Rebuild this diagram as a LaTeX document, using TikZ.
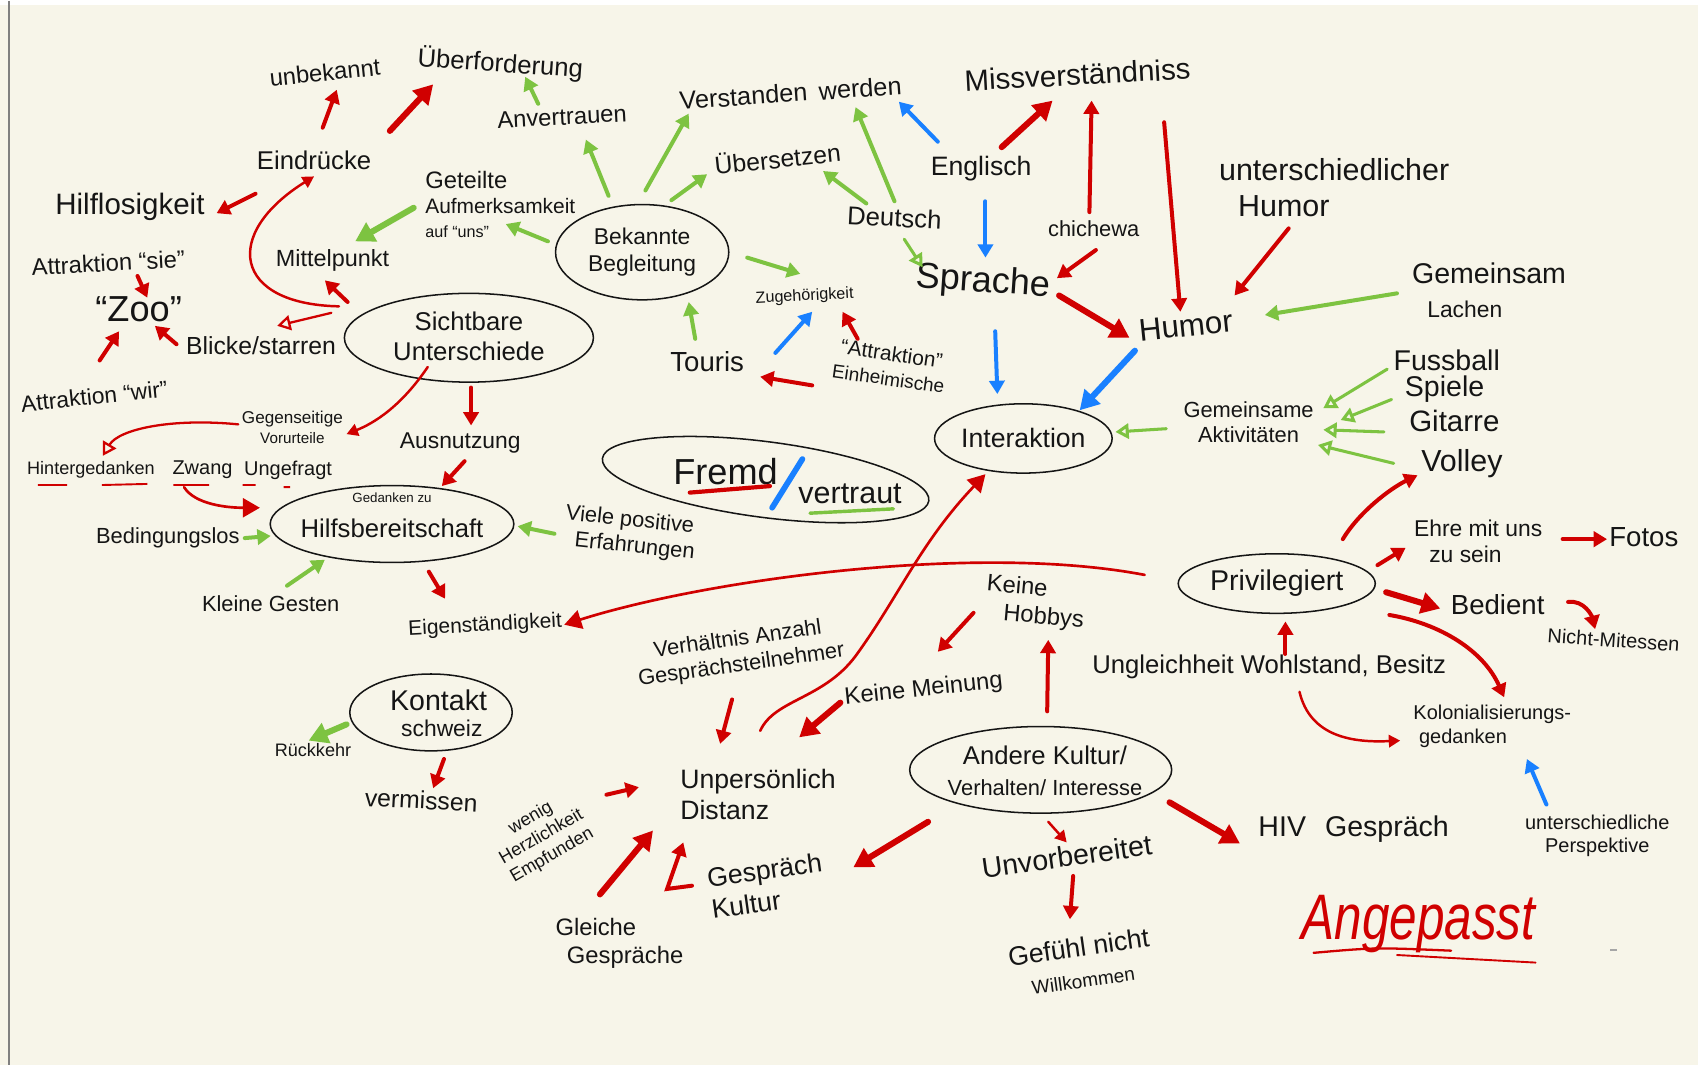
\documentclass[tikz,border=0pt]{standalone}
\usepackage{fontspec}
\usepackage{graphicx}
\setmainfont{Liberation Sans}
\usetikzlibrary{arrows.meta,shapes.geometric,calc}
\definecolor{hred}{HTML}{D00000}
\definecolor{hgreen}{HTML}{7DC341}
\definecolor{hblue}{HTML}{1980FF}
\definecolor{paper}{HTML}{F7F5E9}
\definecolor{ink}{HTML}{151515}
\newcommand\fz[1]{\fontsize{#1}{\dimexpr #1pt*118/100\relax}\selectfont}
\begin{document}
\begin{tikzpicture}[x=0.02cm,y=-0.02cm,
  txt/.style={inner sep=0pt, text=ink, align=center},
  fs/.style={font=\fz{#1}},
  ell/.style={ellipse, draw=ink, line width=0.8pt, inner sep=0pt},
  ar/.style={line width=2.1pt, line cap=round, -{Triangle[length=7pt,width=8pt]}},
  art/.style={line width=3.2pt, line cap=round, -{Triangle[length=10pt,width=11pt]}},
  arn/.style={line width=1.3pt, line cap=round, -{Triangle[length=6pt,width=6.5pt]}},
  arnb/.style={line width=1.4pt, line cap=round, -{Triangle[length=9pt,width=10pt]}},
  aro/.style={line width=1.6pt, line cap=round, -{Triangle[open,length=7pt,width=8pt]}},
  cR/.style={draw=hred}, cG/.style={draw=hgreen}, cB/.style={draw=hblue}]
% background
\fill[paper] (0,0) rectangle (1568,983);
\fill[white] (0,0) rectangle (1568,4);
\draw[gray, line width=1pt] (8,0) -- (8,983);
\useasboundingbox (0,0) rectangle (1568,983);

% ---------- nodes ----------
\node[txt,fs=12.5,rotate=6] (unbek) at (300,66) {unbekannt};
\node[txt,fs=13.5,rotate=-4] (uberf) at (462,58) {Überforderung};
\node[txt,fs=12.5,rotate=3] (anvert) at (519,107) {Anvertrauen};
\node[txt,fs=13.3,rotate=4] (verst) at (730,85) {Verstanden\hspace{6pt}werden};
\node[txt,fs=15.5,rotate=3] (miss) at (995,68) {Missverständniss};
\node[txt,fs=13.5] (eind) at (290,147) {Eindrücke};
\node[txt,fs=11,align=left] (geteilt) at (462,188) {{\fz{12.5}Geteilte}\\Aufmerksamkeit\\{\fz{8.5}auf “uns”}};
\node[txt,fs=13,rotate=6] (uebers) at (718,145) {Übersetzen};
\node[txt,fs=14] (engl) at (906,155) {Englisch};
\node[txt,fs=13.5,rotate=-3] (deut) at (826,200) {Deutsch};
\node[txt,fs=11.5] (chich) at (1010,210) {chichewa};
\node[txt,fs=16,align=left] (unterH) at (1232,172) {unterschiedlicher\\\hspace*{10pt}Humor};
\node[txt,fs=15.5] (hilf) at (120,190) {Hilflosigkeit};
\node[txt,fs=12.5,rotate=3] (attsie) at (100,242) {Attraktion “sie”};
\node[txt,fs=12.3] (mittel) at (307,240) {Mittelpunkt};
\node[ell,minimum width=3.2cm,minimum height=1.76cm] (bek) at (593,232) {};
\node[txt,fs=12] (bekT) at (bek) {Bekannte\\Begleitung};
\node[txt,fs=8.5,rotate=3] (zugeh) at (743,273) {Zugehörigkeit};
\node[txt,fs=19,rotate=-4] (sprache) at (908,260) {Sprache};
\node[txt,fs=15,align=left] (gemL) at (1375,267) {Gemeinsam\\\hspace*{8pt}{\fz{12}Lachen}};
\node[txt,fs=16.5,rotate=6] (humor) at (1095,300) {Humor};
\node[txt,fs=19] (zoo) at (128,285) {“Zoo”};
\node[ell,minimum width=4.6cm,minimum height=1.64cm] (sicht) at (433,311) {};
\node[txt,fs=13.5] (sichtT) at (433,310) {Sichtbare\\Unterschiede};
\node[txt,fs=13] (blicke) at (241,318) {Blicke/starren};
\node[txt,fs=12,rotate=6] (attwir) at (87,365) {Attraktion “wir”};
\node[txt,fs=14.5] (touris) at (653,333) {Touris};
\node[txt,fs=11,rotate=-8] (einh) at (822,337) {“Attraktion”\\{\fz{10}Einheimische}};
\node[txt,fs=15] (fussball) at (1336,332) {Fussball};
\node[txt,fs=15] (spiele) at (1334,358) {Spiele};
\node[txt,fs=15.5] (gitarre) at (1343,388) {Gitarre};
\node[txt,fs=16] (volley) at (1350,427) {Volley};
\node[txt,fs=11.5] (gemA) at (1153,389) {Gemeinsame\\Aktivitäten};
\node[ell,minimum width=3.28cm,minimum height=1.28cm] (interakt) at (945,404) {};
\node[txt,fs=14] (interaktT) at (interakt) {Interaktion};
\node[txt,fs=9] (gegens) at (270,394) {Gegenseitige\\{\fz{8}Vorurteile}};
\node[txt,fs=12] (ausn) at (425,408) {Ausnutzung};
\node[txt,fs=9.5] (hinterg) at (84,433) {Hintergedanken};
\node[txt,fs=10.5] (zwang) at (187,433) {Zwang};
\node[txt,fs=10.5] (ungefr) at (266,433) {Ungefragt};
\draw[hred,line width=1pt] (35,447)--(62,447) (94,447)--(136,446) (160,447)--(193,447) (224,447)--(236,447) (262,449)--(268,449);
\node[ell,rotate=-7.4,minimum width=6.08cm,minimum height=1.4cm] (fv) at (707,442) {};
\node[txt,fs=19] (fremd) at (670,435) {Fremd};
\node[txt,fs=16] (vertraut) at (785,455) {vertraut};
\draw[hred,line width=2.2pt,line cap=round] (637,454) -- (711,448);
\draw[hblue,line width=3pt,line cap=round] (741,423) -- (713,468);
\draw[hgreen,line width=1.8pt,line cap=round] (748,473) -- (825,469);
\node[ell,minimum width=4.5cm,minimum height=1.42cm] (hilfsb) at (362,483) {};
\node[txt,fs=7] (gedZu) at (362,459) {Gedanken zu};
\node[txt,fs=13.5] (hilfsbT) at (362,487) {Hilfsbereitschaft};
\node[txt,fs=11.5,rotate=-6,align=left] (viele) at (582,492) {Viele positive\\\hspace*{6pt}Erfahrungen};
\node[txt,fs=11.5] (beding) at (155,496) {Bedingungslos};
\node[txt,fs=11.5] (kleine) at (250,557) {Kleine Gesten};
\node[txt,fs=11,rotate=3] (eigen) at (448,577) {Eigenständigkeit};
\node[txt,fs=12,align=left] (ehre) at (1365,499) {Ehre mit uns\\\hspace*{8pt}zu sein};
\node[txt,fs=14.5] (fotos) at (1518,495) {Fotos};
\node[ell,minimum width=3.64cm,minimum height=1.1cm] (privil) at (1179,538) {};
\node[txt,fs=15] (privilT) at (privil) {Privilegiert};
\node[txt,fs=14.5] (bedient) at (1383,557) {Bedient};
\node[txt,fs=10.5,rotate=-4] (nichtM) at (1490,590) {Nicht-Mitessen};
\node[txt,fs=12.5,align=left,rotate=-5] (hobbys) at (956,556) {Keine\\\hspace*{10pt}Hobbys};
\node[txt,fs=11.5,rotate=8] (verh) at (683,602) {Verhältnis Anzahl\\Gesprächsteilnehmer};
\node[txt,fs=12.5,rotate=6] (keineM) at (853,636) {Keine Meinung};
\node[txt,fs=13.5] (ungl) at (1172,615) {Ungleichheit Wohlstand, Besitz};
\node[txt,fs=10.5,align=left] (kolon) at (1378,670) {Kolonialisierungs-\\\hspace*{3pt}gedanken};
\node[ell,minimum width=3cm,minimum height=1.42cm] (kontakt) at (398,657) {};
\node[txt,fs=15] (kontaktT) at (405,646) {Kontakt};
\node[txt,fs=12] (schweiz) at (408,672) {schweiz};
\node[txt,fs=9.5] (rueck) at (289,692) {Rückkehr};
\node[txt,fs=13,rotate=-3] (verm) at (389,738) {vermissen};
\node[txt,fs=9.5,rotate=30] (wenig) at (500,772) {wenig\\Herzlichkeit\\Empfunden};
\node[txt,fs=14,align=left] (unpers) at (700,733) {Unpersönlich\\Distanz};
\node[ell,minimum width=4.84cm,minimum height=1.6cm] (andere) at (961,710) {};
\node[txt,fs=13.5] (andereT) at (965,711) {Andere Kultur/\\{\fz{11.5}Verhalten/ Interesse}};
\node[txt,fs=14,rotate=8,align=left] (gespr) at (708,817) {Gespräch\\Kultur};
\node[txt,fs=15,rotate=8] (unvor) at (985,790) {Unvorbereitet};
\node[txt,fs=15] (hiv) at (1250,765) {HIV\hspace{10pt}Gespräch};
\node[txt,fs=10.5] (untP) at (1475,771) {unterschiedliche\\Perspektive};
\node[txt,fs=12.5,align=left] (gleiche) at (572,870) {Gleiche\\\hspace*{6pt}Gespräche};
\node[txt,fs=14,rotate=8] (gefuehl) at (998,888) {Gefühl nicht\\{\fz{10}Willkommen}};
\node[txt,text=hred,font=\fontsize{26}{26}\selectfont\itshape] (angep) at (1310,852) {\scalebox{1}[1.3]{Angepasst}};
\draw[hred,line width=1.2pt,line cap=round] (1213,879) .. controls (1270,874) .. (1340,877);
\draw[hred,line width=1pt,line cap=round] (1290,881) -- (1418,888);
\draw[gray!70,line width=1pt] (1487,876) -- (1493,876);

% ---------- connectors ----------
\draw[ar,cR] ($(eind)+(8,-30)$) -- ($(unbek)+(11,16)$);
\draw[art,cR] ($(eind)+(70,-27)$) -- ($(uberf)+(-62,19)$);
\draw[ar,cG] ($(anvert)+(-22,-12)$) -- ($(uberf)+(23,12)$);
\draw[ar,cR] ($(eind)+(-54,31)$) -- ($(hilf)+(80,6)$);
\draw[arn,cR] ($(sicht)+(-120,-29)$) .. controls +(-98,-2) and +(-85,53) .. ($(eind)+(0,15)$);
\draw[art,cG] ($(geteilt)+(-80,3)$) -- ($(mittel)+(21,-18)$);
\draw[ar,cG] ($(bek)+(-87,-10)$) -- ($(geteilt)+(5,18)$);
\draw[ar,cR] ($(sicht)+(-112,-33)$) -- ($(mittel)+(-7,18)$);
\draw[aro,cR,line width=1.2pt] ($(sicht)+(-127,-23)$) -- ($(blicke)+(15,-18)$);
\draw[ar,cR] ($(attsie)+(27,12)$) -- ($(zoo)+(8,-11)$);
\draw[ar,cR] ($(blicke)+(-78,-1)$) -- ($(zoo)+(15,15)$);
\draw[ar,cR] ($(attwir)+(5,-33)$) -- ($(zoo)+(-18,20)$);

\draw[ar,cG] ($(bek)+(-31,-52)$) -- ($(anvert)+(22,21)$);
\draw[ar,cG] ($(bek)+(3,-57)$) -- ($(verst)+(-94,19)$);
\draw[ar,cG] ($(bek)+(27,-48)$) -- ($(uebers)+(-65,15)$);
\draw[ar,cG] ($(bek)+(97,5)$) -- ($(zugeh)+(-4,-21)$);
\draw[ar,cG] ($(touris)+(-11,-21)$) -- ($(bek)+(43,46)$);
\draw[ar,cB] ($(touris)+(63,-8)$) -- ($(zugeh)+(7,14)$);
\draw[ar,cR] ($(einh)+(-30,-25)$) -- ($(zugeh)+(35,14)$);
\draw[ar,cR] ($(einh)+(-72,18)$) -- ($(touris)+(49,14)$);

\draw[ar,cG] ($(deut)+(-26,-13)$) -- ($(uebers)+(42,12)$);
\draw[ar,cG] ($(deut)+(0,-15)$) -- ($(verst)+(60,13)$);
\draw[aro,cG] ($(deut)+(9,20)$) -- ($(sprache)+(-56,-14)$);
\draw[ar,cB] ($(engl)+(-40,-25)$) -- ($(verst)+(100,8)$);
\draw[art,cR] ($(engl)+(19,-20)$) -- ($(miss)+(-23,24)$);
\draw[ar,cB] ($(engl)+(4,30)$) -- ($(sprache)+(2,-23)$);
\draw[ar,cR] ($(chich)+(-4,-15)$) -- ($(miss)+(13,24)$);
\draw[ar,cR] ($(chich)+(2,20)$) -- ($(sprache)+(68,-4)$);
\draw[ar,cR] ($(miss)+(80,44)$) -- ($(humor)+(-5,-13)$);
\draw[art,cR] ($(sprache)+(70,12)$) -- ($(humor)+(-52,11)$);
\draw[ar,cB] ($(sprache)+(11,45)$) -- ($(interakt)+(-24,-41)$);
\draw[art,cB] ($(humor)+(-47,23)$) -- ($(interakt)+(52,-26)$);
\draw[ar,cR] ($(unterH)+(-42,38)$) -- ($(humor)+(45,-28)$);
\draw[ar,cG] ($(gemL)+(-85,3)$) -- ($(humor)+(73,-10)$);

\draw[aro,cG] ($(gemA)+(-76,6)$) -- ($(interakt)+(85,-6)$);
\draw[aro,cG] ($(fussball)+(-55,8)$) -- ($(gemA)+(69,-13)$);
\draw[aro,cG] ($(spiele)+(-49,10)$) -- ($(gemA)+(85,-2)$);
\draw[aro,cG] ($(gitarre)+(-65,10)$) -- ($(gemA)+(69,7)$);
\draw[aro,cG] ($(volley)+(-63,0)$) -- ($(gemA)+(64,21)$);
\draw[ar,cR] ($(privil)+(61,-41)$) .. controls +(15,-25) and +(-25,12) .. ($(volley)+(-41,11)$);
\draw[ar,cR] ($(privil)+(93,-17)$) -- ($(ehre)+(-67,6)$);
\draw[ar,cR] ($(ehre)+(78,-2)$) -- ($(fotos)+(-34,2)$);
\draw[art,cR] ($(privil)+(101,8)$) -- ($(bedient)+(-53,4)$);
\draw[ar,cR] ($(bedient)+(65,-2)$) .. controls +(15,-2) and +(-3,-12) .. ($(nichtM)+(-17,-10)$);
\draw[ar,cR] ($(privil)+(104,29)$) .. controls +(47,8) and +(-19,-43) .. ($(kolon)+(11,-27)$);
\draw[ar,cR] ($(ungl)+(15,-12)$) -- ($(privil)+(8,35)$);
\draw[arn,cR] ($(ungl)+(28,23)$) .. controls +(10,42) and +(-43,2) .. ($(kolon)+(-85,13)$);
\draw[ar,cB] ($(untP)+(-47,-29)$) -- ($(kolon)+(32,30)$);
\draw[arnb,cR] ($(privil)+(-122,-8)$) .. controls +(-157,-30) and +(129,-41) .. ($(eigen)+(73,-1)$);

\draw[arn,cR] ($(sicht)+(-38,27)$) .. controls +(-25,37) and +(25,-10) .. ($(gegens)+(50,6)$);
\draw[ar,cR] ($(sicht)+(2,46)$) -- ($(ausn)+(10,-16)$);
\draw[ar,cR] ($(ausn)+(4,17)$) -- ($(hilfsb)+(46,-35)$);
\draw[aro,cR,line width=1.2pt] ($(gegens)+(-50,-3)$) .. controls +(-60,-6) and +(15,-25) .. ($(hinterg)+(11,-13)$);
\draw[arnb,cR] ($(zwang)+(-17,16)$) .. controls +(10,16) and +(-30,0) .. ($(hilfsb)+(-122,-15)$);
\draw[ar,cG] ($(beding)+(71,0)$) -- ($(hilfsb)+(-112,11)$);
\draw[ar,cG] ($(kleine)+(15,-17)$) -- ($(hilfsb)+(-62,33)$);
\draw[ar,cG] ($(viele)+(-70,0)$) -- ($(hilfsb)+(116,2)$);
\draw[ar,cR] ($(hilfsb)+(34,44)$) -- ($(eigen)+(-37,-25)$);

\draw[art,cG] ($(kontakt)+(-78,11)$) -- ($(rueck)+(-4,-9)$);
\draw[ar,cR] ($(kontakt)+(12,43)$) -- ($(verm)+(11,-11)$);
\draw[ar,cR] ($(wenig)+(60,-39)$) -- ($(unpers)+(-110,-7)$);
\draw[ar,cR] ($(verh)+(-7,43)$) -- ($(unpers)+(-35,-47)$);
\draw[art,cR] ($(keineM)+(-77,12)$) -- ($(unpers)+(38,-53)$);
\draw[arnb,cR] ($(unpers)+(2,-59)$) .. controls +(13,-29) and +(-30,40) .. ($(unpers)+(90,-128)$)
   .. controls +(40,-55) and +(-60,63) .. ($(interakt)+(-35,33)$);
\draw[ar,cR] ($(hobbys)+(-57,9)$) -- ($(keineM)+(13,-35)$);
\draw[ar,cR] ($(andere)+(6,-54)$) -- ($(hobbys)+(12,34)$);
\draw[art,cR] ($(andere)+(-104,48)$) -- ($(gespr)+(80,-17)$);
\draw[ar,cR] ($(gespr)+(-69,0)$) -- ($(gespr)+(-92,3)$) -- ($(unpers)+(-69,44)$);
\draw[art,cR] ($(gleiche)+(-18,-45)$) -- ($(unpers)+(-97,33)$);
\draw[arn,cR] ($(andere)+(7,48)$) -- ($(unvor)+(0,-13)$);
\draw[ar,cR] ($(unvor)+(6,18)$) -- ($(gefuehl)+(-10,-40)$);
\draw[art,cR] ($(andere)+(119,30)$) -- ($(hiv)+(-105,13)$);
\end{tikzpicture}
\end{document}
